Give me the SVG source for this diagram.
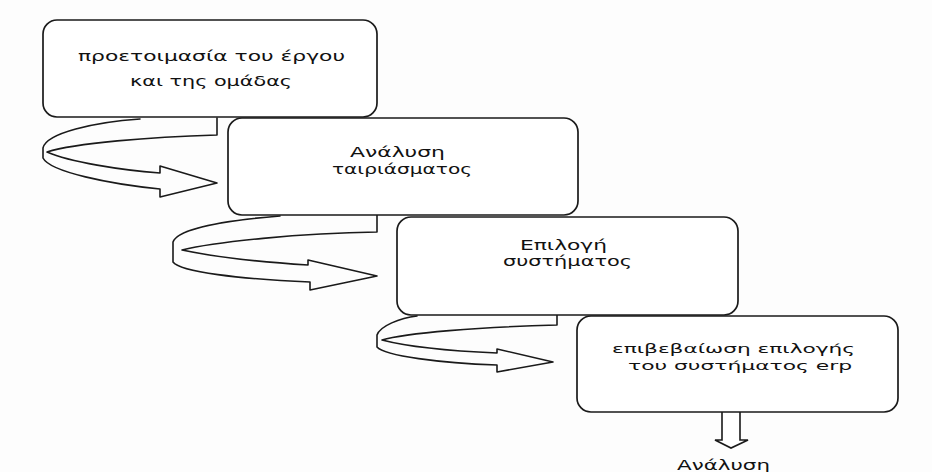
<svg xmlns="http://www.w3.org/2000/svg" width="932" height="472" viewBox="0 0 932 472">
  <style>
    .box { fill: #ffffff; stroke: #1a1a1a; stroke-width: 1.7; }
    .lbl { font-family: "DejaVu Sans", "Liberation Sans", sans-serif; font-size: 14px; fill: #111111; text-anchor: middle; }
    .small { font-size: 13px; }
    .ribbon { fill: none; stroke: #1a1a1a; stroke-width: 1.6; stroke-linejoin: round; stroke-linecap: round; }
    .block { fill: #ffffff; stroke: #1a1a1a; stroke-width: 1.6; stroke-linejoin: miter; }
  </style>
  <rect width="932" height="472" fill="#fdfdfd"/>

  <!-- curved ribbon arrows from each step to the next, plus the final block arrow -->
  <g id="connectors">
    <g id="turn-1">
      <path class="ribbon" d="M140,119 C95,122 46,133 43,148 L43,158 C50,172 110,184 160,189 L160,197 L217,183 L160,166 L160,173 C120,170 70,162 47,152 C75,143 150,137 217,135 L217,118"/>
    </g>
    <g id="turn-2">
      <path class="ribbon" d="M280,216 C230,220 178,228 173,242 L173,262 C180,272 240,279 310,282 L310,290 L377,276 L308,260 L308,265 C260,262 210,256 182,250 C215,242 300,233 377,232 L377,215"/>
    </g>
    <g id="turn-3">
      <path class="ribbon" d="M417,316 C400,318 380,326 377,335 L377,347 C385,356 440,363 497,365 L497,372 L553,362 L497,349 L497,353 C450,351 405,346 382,340 C405,333 480,327 557,325 L557,315"/>
    </g>
    <g id="down-arrow">
      <path class="block" d="M722,412 L722,440 L715,440 L731,448 L748,440 L740,440 L740,412"/>
    </g>
  </g>

  <g id="step-1">
    <rect class="box" x="43" y="20" width="334" height="97" rx="14"/>
    <text class="lbl" x="211.5" y="61" textLength="267" lengthAdjust="spacingAndGlyphs">προετοιμασία του έργου</text>
    <text class="lbl" x="211" y="86" textLength="162" lengthAdjust="spacingAndGlyphs">και της ομάδας</text>
  </g>

  <g id="step-2">
    <rect class="box" x="228" y="118" width="350" height="97" rx="14"/>
    <text class="lbl" x="397.5" y="157" textLength="95" lengthAdjust="spacingAndGlyphs">Ανάλυση</text>
    <text class="lbl" x="402" y="174" textLength="140" lengthAdjust="spacingAndGlyphs">ταιριάσματος</text>
  </g>

  <g id="step-3">
    <rect class="box" x="397" y="217" width="341" height="98" rx="14"/>
    <text class="lbl" x="563.5" y="250" textLength="87" lengthAdjust="spacingAndGlyphs">Επιλογή</text>
    <text class="lbl" x="567.5" y="266" textLength="129" lengthAdjust="spacingAndGlyphs">συστήματος</text>
  </g>

  <g id="step-4">
    <rect class="box" x="577" y="316" width="321" height="96" rx="14"/>
    <text class="lbl small" x="733.5" y="353" textLength="243" lengthAdjust="spacingAndGlyphs">επιβεβαίωση επιλογής</text>
    <text class="lbl small" x="740" y="370" textLength="224" lengthAdjust="spacingAndGlyphs">του συστήματος erp</text>
  </g>

  <g id="next-step">
    <text class="lbl" x="723.5" y="470" textLength="93" lengthAdjust="spacingAndGlyphs">Ανάλυση</text>
  </g>
</svg>
